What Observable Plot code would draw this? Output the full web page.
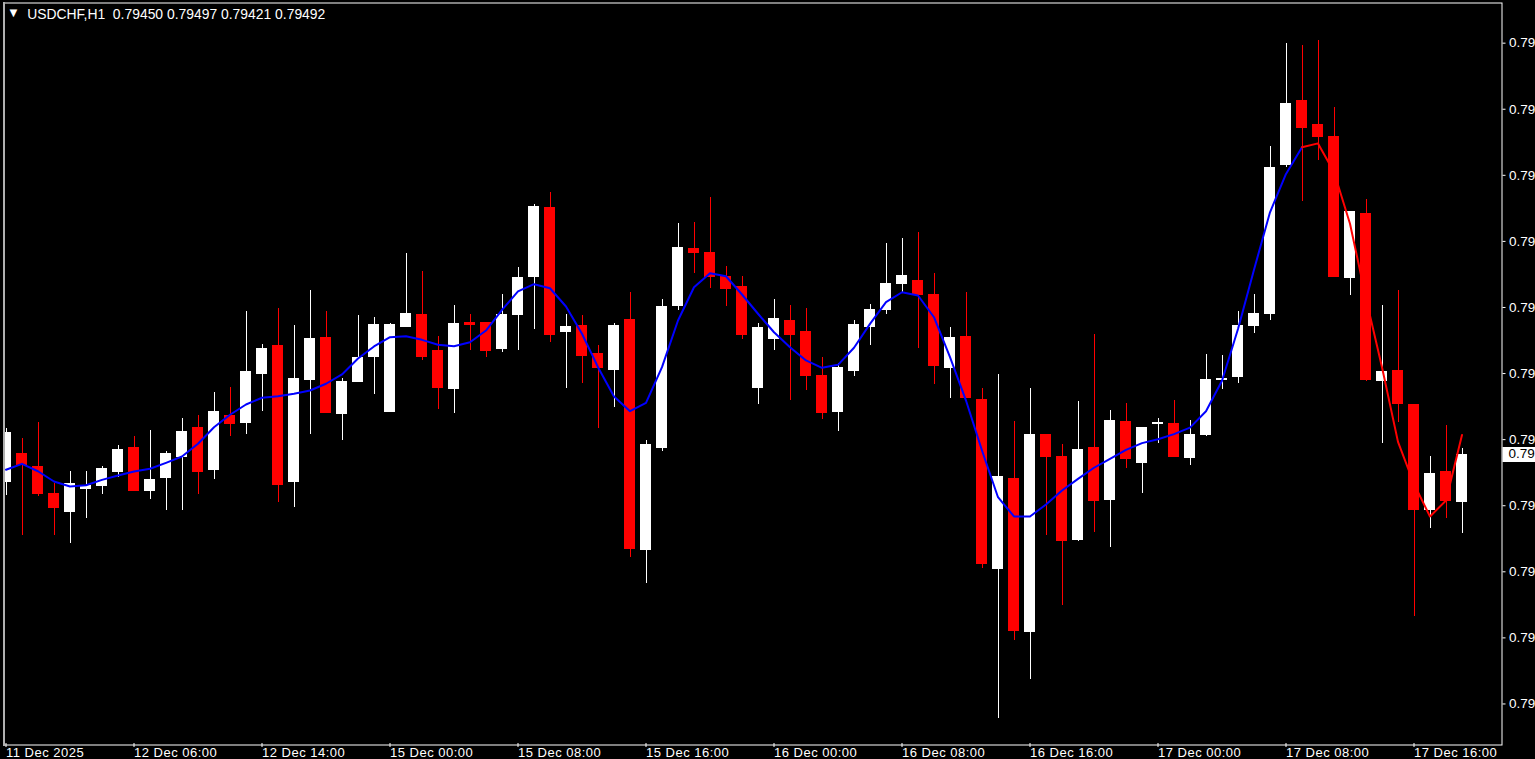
<!DOCTYPE html>
<html>
<head>
<meta charset="utf-8">
<script src="https://cdn.jsdelivr.net/npm/d3@7"></script>
<script src="https://cdn.jsdelivr.net/npm/@observablehq/plot@0.6"></script>
<style>
  html, body { margin: 0; padding: 0; background: #000; overflow: hidden; }
  #chart svg { display: block; }
  .mt-chart g[aria-label="x-axis tick label"] text { letter-spacing: 0.5px; }
</style>
</head>
<body>
<div id="chart"></div>
<script>
// ---------- data (USDCHF, H1) ----------
const symbol = "USDCHF,H1";

const opens = [0.79468,0.79493,0.79481,0.79457,0.79441,0.79461,0.79464,0.79477,0.79498,0.79460,
0.79471,0.79490,0.79516,0.79478,0.79527,0.79520,0.79564,0.79589,0.79468,0.79559,
0.79596,0.79528,0.79557,0.79579,0.79530,0.79606,0.79617,0.79585,0.79551,0.79610,
0.79610,0.79586,0.79617,0.79651,0.79712,0.79602,0.79607,0.79582,0.79568,0.79612,
0.79407,0.79498,0.79625,0.79676,0.79672,0.79651,0.79642,0.79552,0.79595,0.79611,
0.79602,0.79562,0.79530,0.79567,0.79606,0.79621,0.79644,0.79647,0.79635,0.79569,
0.79597,0.79541,0.79390,0.79470,0.79334,0.79510,0.79490,0.79416,0.79498,0.79452,
0.79521,0.79485,0.79519,0.79519,0.79489,0.79510,0.79559,0.79561,0.79607,0.79618,
0.79751,0.79808,0.79786,0.79776,0.79650,0.79707,0.79558,0.79567,0.79536,0.79443,
0.79477,0.79450];

const highs = [0.79515,0.79506,0.79520,0.79466,0.79477,0.79477,0.79481,0.79500,0.79508,0.79513,
0.79494,0.79524,0.79527,0.79547,0.79552,0.79619,0.79590,0.79622,0.79607,0.79638,
0.79619,0.79560,0.79616,0.79614,0.79609,0.79671,0.79655,0.79597,0.79625,0.79617,
0.79610,0.79635,0.79659,0.79715,0.79726,0.79617,0.79616,0.79589,0.79609,0.79636,
0.79504,0.79630,0.79698,0.79699,0.79721,0.79660,0.79651,0.79609,0.79630,0.79625,
0.79622,0.79578,0.79573,0.79611,0.79626,0.79680,0.79685,0.79690,0.79653,0.79605,
0.79636,0.79551,0.79563,0.79521,0.79551,0.79510,0.79501,0.79539,0.79599,0.79531,
0.79537,0.79516,0.79524,0.79540,0.79522,0.79581,0.79580,0.79619,0.79635,0.79767,
0.79859,0.79857,0.79861,0.79802,0.79709,0.79719,0.79625,0.79638,0.79536,0.79490,
0.79518,0.79497];

const lows = [0.79455,0.79419,0.79454,0.79419,0.79412,0.79435,0.79456,0.79471,0.79460,0.79452,
0.79442,0.79442,0.79456,0.79469,0.79508,0.79510,0.79530,0.79449,0.79444,0.79510,
0.79529,0.79504,0.79557,0.79545,0.79530,0.79606,0.79576,0.79532,0.79528,0.79585,
0.79578,0.79583,0.79585,0.79603,0.79592,0.79551,0.79555,0.79515,0.79534,0.79400,
0.79377,0.79494,0.79620,0.79653,0.79640,0.79624,0.79594,0.79536,0.79585,0.79540,
0.79549,0.79523,0.79512,0.79561,0.79589,0.79617,0.79636,0.79586,0.79554,0.79542,
0.79543,0.79390,0.79256,0.79326,0.79291,0.79419,0.79357,0.79414,0.79422,0.79409,
0.79479,0.79457,0.79502,0.79490,0.79482,0.79508,0.79550,0.79555,0.79600,0.79611,
0.79748,0.79718,0.79754,0.79650,0.79634,0.79557,0.79502,0.79520,0.79347,0.79426,
0.79435,0.79421];

const closes = [0.79511,0.79483,0.79457,0.79444,0.79466,0.79464,0.79479,0.79496,0.79460,0.79469,
0.79493,0.79512,0.79477,0.79530,0.79519,0.79566,0.79586,0.79465,0.79560,0.79595,
0.79529,0.79557,0.79578,0.79608,0.79608,0.79618,0.79579,0.79552,0.79609,0.79608,
0.79585,0.79617,0.79650,0.79713,0.79599,0.79606,0.79580,0.79569,0.79607,0.79408,
0.79501,0.79624,0.79677,0.79672,0.79651,0.79640,0.79599,0.79605,0.79613,0.79599,
0.79562,0.79529,0.79569,0.79608,0.79621,0.79644,0.79652,0.79635,0.79571,0.79596,
0.79543,0.79394,0.79472,0.79335,0.79510,0.79490,0.79415,0.79496,0.79451,0.79522,
0.79488,0.79516,0.79520,0.79490,0.79510,0.79559,0.79560,0.79607,0.79618,0.79748,
0.79805,0.79784,0.79776,0.79651,0.79709,0.79559,0.79566,0.79537,0.79443,0.79475,
0.79451,0.79492];

// moving average drawn over the candles
const maValues = [0.794781,0.794834,0.794768,0.794676,0.794632,0.794643,0.794691,0.794730,0.794765,0.794790,
0.794843,0.794899,0.795013,0.795161,0.795272,0.795364,0.795424,0.795438,0.795459,0.795489,
0.795549,0.795632,0.795774,0.795882,0.795965,0.795974,0.795941,0.795897,0.795884,0.795920,
0.796024,0.796209,0.796373,0.796438,0.796402,0.796239,0.795995,0.795697,0.795435,0.795304,
0.795379,0.795697,0.796114,0.796411,0.796536,0.796509,0.796346,0.796174,0.796009,0.795875,
0.795757,0.795691,0.795718,0.795870,0.796084,0.796277,0.796366,0.796337,0.796143,0.795786,
0.795399,0.794953,0.794536,0.794364,0.794364,0.794471,0.794596,0.794700,0.794799,0.794879,
0.794959,0.795019,0.795054,0.795099,0.795157,0.795303,0.795576,0.796038,0.796567,0.797080,
0.797422,0.797661,0.797695,0.797439,0.796977,0.796311,0.795696,0.795030,0.794654,0.794364,
0.794507,0.795091];
const maRedFrom = 81; // from this bar on the average is drawn red

// time axis labels (one every 8 bars)
const timeTickIndex = [0, 8, 16, 24, 32, 40, 48, 56, 64, 72, 80, 88];
const timeTickLabels = ["11 Dec 2025", "12 Dec 06:00", "12 Dec 14:00", "15 Dec 00:00", "15 Dec 08:00",
  "15 Dec 16:00", "16 Dec 00:00", "16 Dec 08:00", "16 Dec 16:00", "17 Dec 00:00", "17 Dec 08:00", "17 Dec 16:00"];

// price axis ticks
const priceTicks = [0.79859, 0.79800, 0.79741, 0.79682, 0.79623, 0.79564, 0.79505, 0.79446, 0.79387, 0.79328, 0.79269];

// ---------- build ----------
const idx = d3.range(opens.length);
const candles = idx.map(i => ({i, o: opens[i], h: highs[i], l: lows[i], c: closes[i], up: closes[i] >= opens[i]}));
const candleColor = d => d.up ? "#ffffff" : "#ff0000";
const maBlue = idx.filter(i => i <= maRedFrom).map(i => ({i, v: maValues[i]}));
const maRed = idx.filter(i => i >= maRedFrom).map(i => ({i, v: maValues[i]}));
const labelMap = new Map(timeTickIndex.map((t, k) => [t, timeTickLabels[k]]));
const last = candles[candles.length - 1];
const titleText = symbol + "\u00a0\u00a0" + [last.o, last.h, last.l, last.c].map(v => v.toFixed(5)).join(" ");
// the narrow price scale only has room for the first digits of each price
const priceShort = d => (Math.floor(d * 100 + 1e-9) / 100).toFixed(2);

const FONT = "'Liberation Sans', Arial, sans-serif";

const plot = Plot.plot({
  className: "mt-chart",
  width: 1535,
  height: 759,
  marginTop: 2.5,
  marginLeft: 3.5,
  marginRight: 33.5,
  marginBottom: 14.5,
  style: {background: "#000", color: "#fff", fontFamily: FONT, fontSize: "12px", overflow: "hidden"},
  x: {type: "band", domain: idx, range: [-2.5, 1469.5], paddingInner: 5 / 16, paddingOuter: 2.5 / 16, align: 0.5, round: false, axis: null},
  y: {type: "linear", domain: [0.79, 0.80], range: [1004.74, -115.26], axis: null},
  marks: [
    Plot.ruleX(candles, {x: "i", y1: "l", y2: "h", stroke: candleColor, strokeWidth: 1, clip: true, shapeRendering: "crispEdges"}),
    Plot.barY(candles, {x: "i", y1: "o", y2: "c", fill: candleColor, clip: true, shapeRendering: "crispEdges"}),
    Plot.tickY(candles, {x: "i", y: "o", stroke: candleColor, clip: true, shapeRendering: "crispEdges"}),
    Plot.tickY(candles, {x: "i", y: "c", stroke: candleColor, clip: true, shapeRendering: "crispEdges"}),
    Plot.line(maBlue, {x: "i", y: "v", stroke: "#0000ff", strokeWidth: 2, clip: true}),
    Plot.line(maRed, {x: "i", y: "v", stroke: "#ff0000", strokeWidth: 2, clip: true}),
    Plot.frame({stroke: "#ffffff"}),
    Plot.frame({anchor: "left", stroke: "#b0b0b0", strokeWidth: 2}),
    Plot.axisX(timeTickIndex, {anchor: "bottom", label: null, tickSize: 4, tickPadding: 0, dy: -1.5, tickFormat: d => labelMap.get(d), textAnchor: "start", fontSize: 13, color: "#fff"}),
    Plot.axisY(priceTicks, {anchor: "right", label: null, tickSize: 3, tickPadding: 4, tickFormat: priceShort, textAnchor: "start", fontSize: 13.5, color: "#fff"}),
    Plot.text(["\u25BC"], {frameAnchor: "top-left", dx: 9.5, dy: 10, textAnchor: "middle", lineAnchor: "middle", fontSize: 13, fill: "#fff"}),
    Plot.text([titleText], {frameAnchor: "top-left", dx: 23.2, dy: 6.6, textAnchor: "start", lineAnchor: "top", fontSize: 13.9, fill: "#fff"})
  ]
});

document.getElementById("chart").appendChild(plot);

// current bid price marker on the price scale (positioned through Plot's y scale)
const yScale = plot.scale("y");
const yc = yScale.apply(last.c);
const svg = d3.select(plot);
const g = svg.append("g").attr("font-family", FONT).attr("font-size", 13.5).attr("text-anchor", "start");
g.append("rect").attr("x", 1502.5).attr("y", Math.round(yc) - 7).attr("width", 40).attr("height", 15).attr("fill", "#ffffff");
g.append("text").attr("x", 1508.5).attr("y", yc).attr("dy", "0.32em").attr("text-anchor", "start").attr("fill", "#000").text(priceShort(last.c));
</script>
</body>
</html>
